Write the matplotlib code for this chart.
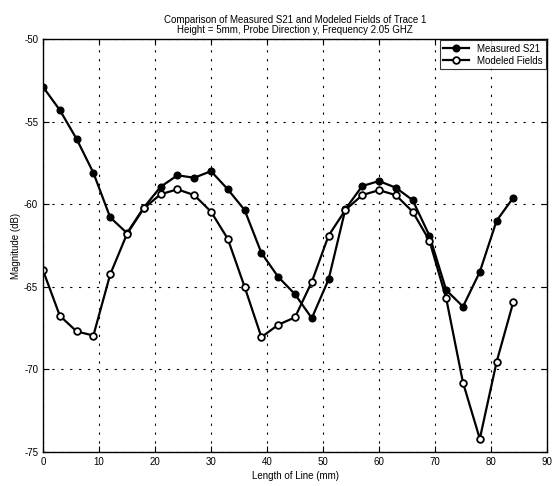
import numpy as np
import matplotlib.pyplot as plt

plt.rcParams['font.family'] = ['Liberation Sans', 'DejaVu Sans']
plt.rcParams['axes.unicode_minus'] = False

# ===== DATA =====
length_mm = [0, 3, 6, 9, 12, 15, 18, 21, 24, 27, 30, 33, 36, 39, 42,
             45, 48, 51, 54, 57, 60, 63, 66, 69, 72, 75, 78, 81, 84]
measured_s21 = [-52.9, -54.3, -56.05, -58.1, -60.8, -61.75, -60.2, -58.95, -58.25, -58.4,
                -58.0, -59.1, -60.35, -62.95, -64.4, -65.45, -66.9, -64.55, -60.3, -58.9,
                -58.6, -59.0, -59.75, -61.9, -65.2, -66.2, -64.1, -61.0, -59.6]
modeled_fields = [-64.0, -66.75, -67.7, -67.95, -64.25, -61.8, -60.25, -59.4, -59.1, -59.45,
                  -60.45, -62.1, -65.0, -68.05, -67.3, -66.85, -64.7, -61.9, -60.35, -59.45,
                  -59.15, -59.45, -60.45, -62.2, -65.7, -70.8, -74.2, -69.55, -65.9]

# ===== PLOT =====
fig = plt.figure(figsize=(5.52, 4.86), dpi=100)
ax = fig.add_axes([43 / 552, 1 - 452 / 486, 504 / 552, 413 / 486])

ax.plot(length_mm, measured_s21, color='black', lw=1.6, marker='o', ms=4.8,
        mfc='black', mec='black', label='Measured S21')
ax.plot(length_mm, modeled_fields, color='black', lw=1.6, marker='o', ms=4.8,
        mfc='white', mec='black', mew=1.3, label='Modeled Fields')

ax.set_xlim(0, 90)
ax.set_ylim(-75, -50)
ax.set_xticks(np.arange(0, 91, 10))
ax.set_yticks(np.arange(-75, -49, 5))
ax.tick_params(direction='in', top=True, right=True, labelsize=7, length=4)
ax.grid(True, color='black', linestyle=(0, (2, 6)), linewidth=0.8)
for s in ax.spines.values():
    s.set_linewidth(1.0)

ax.set_xlabel('Length of Line (mm)', fontsize=7, labelpad=3)
ax.set_ylabel('Magnitude (dB)', fontsize=7, labelpad=2)
ax.set_title('Comparison of Measured S21 and Modeled Fields of Trace 1\n'
             'Height = 5mm, Probe Direction y, Frequency 2.05 GHZ',
             fontsize=7, linespacing=1.1, pad=4)

leg = ax.legend(loc='upper right', fontsize=7, frameon=True, fancybox=False,
                edgecolor='black', borderpad=0.35, handlelength=2.6,
                labelspacing=0.2, borderaxespad=0.15)
leg.get_frame().set_linewidth(0.8)

plt.savefig('out.png', dpi=100)
